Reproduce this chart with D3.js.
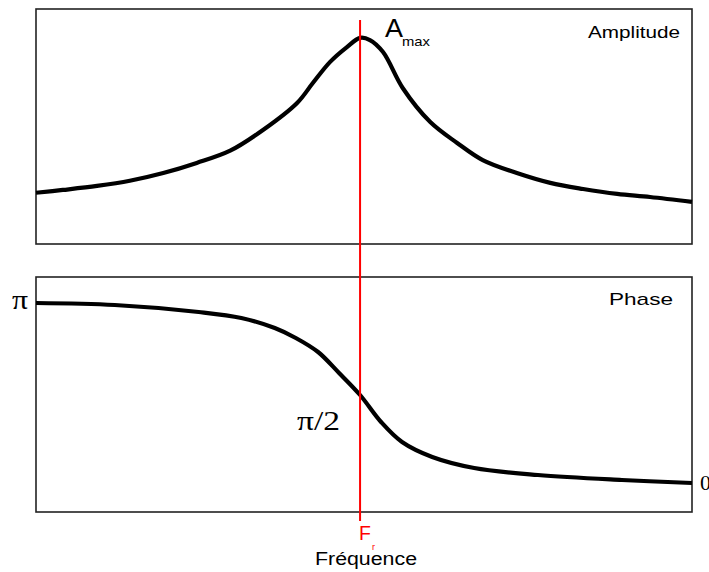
<!DOCTYPE html>
<html><head><meta charset="utf-8">
<script src="https://cdn.jsdelivr.net/npm/d3@7"></script>
<style>body{margin:0;background:#fff}svg{display:block}</style>
</head><body>
<script>
// Data (frequency in arbitrary units 0..10)
const ampFreq = [0, 0.41, 0.93, 1.43, 1.94, 2.45, 2.96, 3.46, 3.98, 4.22, 4.48, 4.74, 4.94, 5.09, 5.29, 5.59, 6.01, 6.42, 6.81, 7.33, 7.84, 8.34, 8.86, 9.36, 10];
const ampValues = [0.218, 0.230, 0.247, 0.269, 0.302, 0.345, 0.397, 0.485, 0.600, 0.685, 0.774, 0.838, 0.877, 0.868, 0.817, 0.664, 0.519, 0.430, 0.357, 0.302, 0.260, 0.234, 0.213, 0.200, 0.179];
const phaseFreq = [0, 1.20, 2.48, 3.13, 3.64, 3.96, 4.30, 4.62, 4.94, 5.26, 5.58, 6.04, 6.68, 7.65, 8.93, 10];
const phaseValues = [3.124, 3.090, 2.970, 2.867, 2.695, 2.524, 2.283, 1.923, 1.545, 1.082, 0.738, 0.481, 0.292, 0.172, 0.086, 0.034];
const resonanceFreq = 4.94;
const phaseTicks = [{v: Math.PI, t: "π"}, {v: Math.PI/2, t: "π/2"}, {v: 0, t: "0"}];

const W = 709, H = 572;
const svg = d3.select("body").append("svg").attr("width", W).attr("height", H);
const left = 36, right = 692;
const x = d3.scaleLinear().domain([0, 10]).range([left, right]);
const topP = {y0: 9, y1: 244};
const botP = {y0: 277, y1: 512};
const yA = d3.scaleLinear().domain([0, 1]).range([topP.y1, topP.y0]);
const yP = d3.scaleLinear().domain([0, Math.PI]).range([485, 302]);

[topP, botP].forEach(p => {
  svg.append("rect").attr("x", left).attr("y", p.y0).attr("width", right - left).attr("height", p.y1 - p.y0)
    .attr("fill", "none").attr("stroke", "#222").attr("stroke-width", 1.6);
});

const lineA = d3.line().x((d, i) => x(ampFreq[i])).y(d => yA(d)).curve(d3.curveCatmullRom);
svg.append("path").attr("d", lineA(ampValues)).attr("fill", "none").attr("stroke", "#000").attr("stroke-width", 4.2).attr("stroke-linejoin", "round");
const lineP = d3.line().x((d, i) => x(phaseFreq[i])).y(d => yP(d)).curve(d3.curveCatmullRom);
svg.append("path").attr("d", lineP(phaseValues)).attr("fill", "none").attr("stroke", "#000").attr("stroke-width", 4.2).attr("stroke-linejoin", "round");

// resonance line
svg.append("line").attr("x1", x(resonanceFreq)).attr("x2", x(resonanceFreq)).attr("y1", 20).attr("y2", 521)
  .attr("stroke", "#ff0000").attr("stroke-width", 2);

const sans = "Liberation Sans, Arial, sans-serif";
const serif = "Liberation Serif, Times New Roman, serif";

svg.append("text").attr("x", 588).attr("y", 38).attr("font-family", sans).attr("font-size", 17)
  .attr("textLength", 92).attr("lengthAdjust", "spacingAndGlyphs").text("Amplitude");
svg.append("text").attr("x", 609).attr("y", 305).attr("font-family", sans).attr("font-size", 17)
  .attr("textLength", 64).attr("lengthAdjust", "spacingAndGlyphs").text("Phase");

svg.append("text").attr("x", 385).attr("y", 37).attr("font-family", sans).attr("font-size", 25)
  .attr("textLength", 18).attr("lengthAdjust", "spacingAndGlyphs").text("A");
svg.append("text").attr("x", 402).attr("y", 46).attr("font-family", sans).attr("font-size", 13)
  .attr("textLength", 28).attr("lengthAdjust", "spacingAndGlyphs").text("max");

// phase tick labels
svg.append("text").attr("x", 12).attr("y", 309).attr("font-family", serif).attr("font-size", 28)
  .attr("textLength", 16).attr("lengthAdjust", "spacingAndGlyphs").text(phaseTicks[0].t);
svg.append("text").attr("x", 297).attr("y", 430).attr("font-family", serif).attr("font-size", 27)
  .attr("textLength", 43).attr("lengthAdjust", "spacingAndGlyphs").text(phaseTicks[1].t);
svg.append("text").attr("x", 700).attr("y", 490).attr("font-family", serif).attr("font-size", 22).text(phaseTicks[2].t);

svg.append("text").attr("x", 359).attr("y", 540).attr("font-family", sans).attr("font-size", 19.5).attr("fill", "#ff0000").text("F");
svg.append("text").attr("x", 372).attr("y", 550).attr("font-family", sans).attr("font-size", 9).attr("fill", "#ff0000").text("r");
svg.append("text").attr("x", 315).attr("y", 565).attr("font-family", sans).attr("font-size", 18)
  .attr("textLength", 102).attr("lengthAdjust", "spacingAndGlyphs").text("Fréquence");
</script>
</body></html>
